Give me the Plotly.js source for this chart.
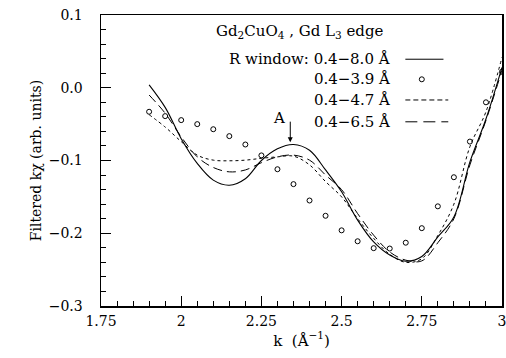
<!DOCTYPE html>
<html>
<head>
<meta charset="utf-8">
<script src="https://cdn.plot.ly/plotly-3.0.1.min.js"></script>
<style>html,body{margin:0;padding:0;background:#fff;}#chart{width:506px;height:358px;}</style>
</head>
<body>
<div id="chart"></div>
<script>
// k values (Å^-1)
const k = [1.90,1.95,2.00,2.05,2.10,2.15,2.20,2.25,2.30,2.35,2.40,2.45,2.50,2.55,2.60,2.65,2.70,2.75,2.80,2.85,2.90,2.95,3.00];
// R window 0.4-8.0 Å (solid)
const win80 = [0.004,-0.027,-0.070,-0.104,-0.127,-0.134,-0.125,-0.100,-0.084,-0.078,-0.086,-0.113,-0.143,-0.182,-0.212,-0.230,-0.2385,-0.232,-0.205,-0.1775,-0.102,-0.043,0.028];
// R window 0.4-3.9 Å (circles)
const win39 = [-0.033,-0.039,-0.0445,-0.050,-0.057,-0.0665,-0.078,-0.093,-0.112,-0.1325,-0.155,-0.176,-0.196,-0.211,-0.2205,-0.221,-0.213,-0.193,-0.163,-0.123,-0.074,-0.020,0.022];
// R window 0.4-4.7 Å (short dash)
const win47 = [-0.037,-0.054,-0.074,-0.0926,-0.0995,-0.1004,-0.0995,-0.097,-0.095,-0.094,-0.106,-0.129,-0.150,-0.180,-0.207,-0.229,-0.240,-0.235,-0.203,-0.160,-0.081,-0.033,0.042];
// R window 0.4-6.5 Å (long dash)
const win65 = [-0.010,-0.035,-0.0675,-0.095,-0.1096,-0.1156,-0.113,-0.103,-0.095,-0.0926,-0.0995,-0.120,-0.140,-0.173,-0.2027,-0.2257,-0.237,-0.238,-0.213,-0.180,-0.106,-0.045,0.024];

const xTicks = [1.75,2,2.25,2.5,2.75,3];
const xTickText = ['1.75','2','2.25','2.5','2.75','3'];
const yTicks = [-0.3,-0.2,-0.1,0.0,0.1];
const yTickText = ['\u22120.3','\u22120.2','\u22120.1','0.0','0.1'];

const FONT = 'DejaVu Serif, Liberation Serif, serif';

const traces = [
  {x:k, y:win80, mode:'lines', line:{color:'#000', width:1.1, shape:'spline', smoothing:1}, name:'0.4-8.0 Å'},
  {x:k, y:win39, mode:'markers', marker:{symbol:'circle-open', size:5, color:'#000', line:{width:1, color:'#000'}}, name:'0.4-3.9 Å'},
  {x:k, y:win47, mode:'lines', line:{color:'#000', width:1, dash:'3px,3px', shape:'spline', smoothing:1}, name:'0.4-4.7 Å'},
  {x:k, y:win65, mode:'lines', line:{color:'#000', width:1, dash:'9px,5px', shape:'spline', smoothing:1}, name:'0.4-6.5 Å'}
];

const ann = (text, x, y, xanchor) => ({text, x, y, xref:'paper', yref:'paper', xanchor:xanchor||'center', yanchor:'middle', showarrow:false, font:{family:FONT, size:15, color:'#000'}});

const layout = {
  width:506, height:358,
  margin:{l:101, r:4, t:15, b:52},
  paper_bgcolor:'#fff', plot_bgcolor:'#fff',
  showlegend:false,
  font:{family:FONT, size:14, color:'#000'},
  xaxis:{
    range:[1.75,3], tickmode:'array', tickvals:xTicks, ticktext:xTickText,
    ticks:'inside', ticklen:10, tickwidth:1, tickcolor:'#000',
    minor:{dtick:0.05, ticks:'inside', ticklen:5, tickwidth:1, tickcolor:'#000'},
    showline:true, linecolor:'#000', linewidth:1.5, mirror:true, showgrid:false, zeroline:false,
    ticklabelstandoff:2, ticklabeloverflow:'allow',
    tickfont:{family:FONT, size:14},
    title:{text:'k  (Å<sup>\u22121</sup>)', font:{family:FONT, size:15}, standoff:6}
  },
  yaxis:{
    range:[-0.3,0.1], tickmode:'array', tickvals:yTicks, ticktext:yTickText,
    ticks:'inside', ticklen:10, tickwidth:1, tickcolor:'#000',
    minor:{dtick:0.02, ticks:'inside', ticklen:5, tickwidth:1, tickcolor:'#000'},
    showline:true, linecolor:'#000', linewidth:1.5, mirror:true, showgrid:false, zeroline:false,
    ticklabelstandoff:14, ticklabeloverflow:'allow',
    tickfont:{family:FONT, size:14},
    title:{text:'Filtered kχ (arb. units)', font:{family:FONT, size:14}, standoff:4}
  },
  annotations:[
    ann('Gd<sub>2</sub>CuO<sub>4</sub> , Gd L<sub>3</sub> edge', 0.497, 0.943),
    ann('R window: 0.4\u22128.0 Å', 0.726, 0.848, 'right'),
    ann('0.4\u22123.9 Å', 0.726, 0.779, 'right'),
    ann('0.4\u22124.7 Å', 0.726, 0.708, 'right'),
    ann('0.4\u22126.5 Å', 0.726, 0.633, 'right'),
    ann('A', 0.443, 0.645),
    {text:'', x:0.472, y:0.563, xref:'paper', yref:'paper', showarrow:true, ax:0, ay:-22, arrowhead:2, arrowsize:1, arrowwidth:1, arrowcolor:'#000'}
  ],
  shapes:[
    {type:'line', xref:'paper', yref:'paper', x0:0.759, x1:0.854, y0:0.848, y1:0.848, line:{color:'#000', width:1}},
    {type:'circle', xref:'paper', yref:'paper', xsizemode:'pixel', ysizemode:'pixel', xanchor:0.800, yanchor:0.779, x0:-2.5, x1:2.5, y0:-2.5, y1:2.5, line:{color:'#000', width:1}},
    {type:'line', xref:'paper', yref:'paper', x0:0.759, x1:0.866, y0:0.708, y1:0.708, line:{color:'#000', width:1, dash:'5px,3px'}},
    {type:'line', xref:'paper', yref:'paper', x0:0.759, x1:0.866, y0:0.633, y1:0.633, line:{color:'#000', width:1, dash:'12px,6px'}}
  ]
};

Plotly.newPlot('chart', traces, layout, {staticPlot:true, displayModeBar:false});
</script>
</body>
</html>
